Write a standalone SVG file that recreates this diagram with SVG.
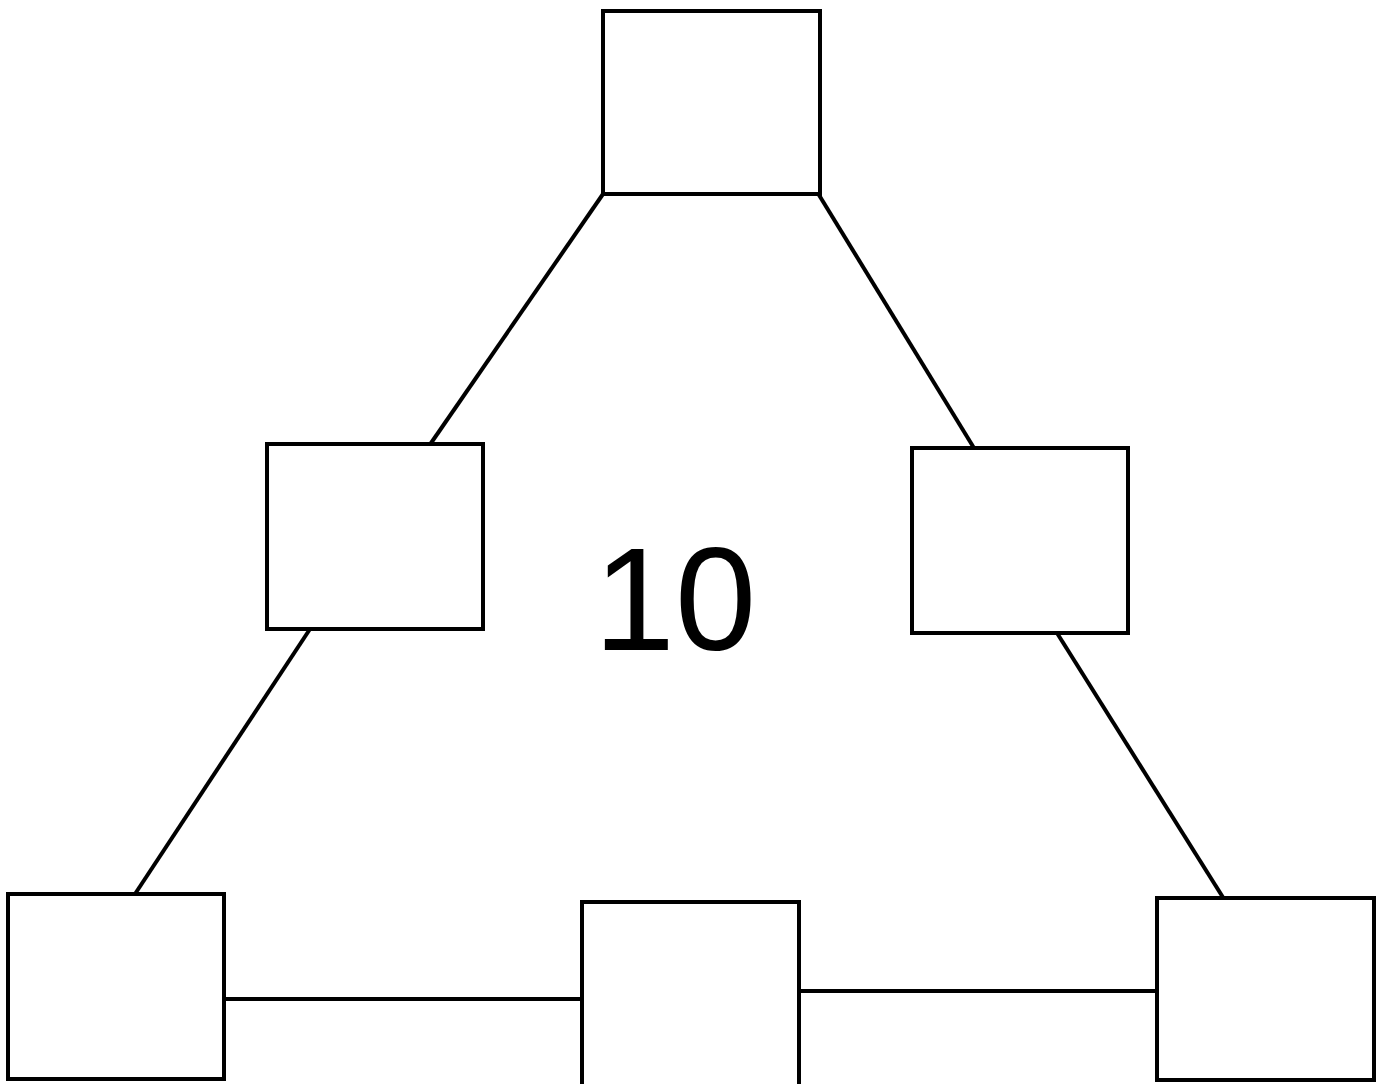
<svg xmlns="http://www.w3.org/2000/svg" width="1381" height="1084" viewBox="0 0 1381 1084">
<style>
.node{fill:#fff;stroke:#000;stroke-width:4}
.edge{stroke:#000;stroke-width:4;fill:none}
.lbl{font-family:'Liberation Sans',Roboto,Arial,sans-serif;font-size:146px;fill:#000}
</style>
<rect width="1381" height="1084" fill="#fff"/>
<g id="connectors">
<line class="edge" x1="603" y1="194" x2="429" y2="446"/>
<line class="edge" x1="819" y1="195" x2="974" y2="448"/>
<line class="edge" x1="310" y1="629" x2="135" y2="894"/>
<line class="edge" x1="1057" y1="633" x2="1224" y2="899"/>
<line class="edge" x1="222" y1="999" x2="582" y2="999"/>
<line class="edge" x1="799" y1="991" x2="1157" y2="991"/>
</g>
<g id="node-top"><rect class="node" x="603" y="11" width="217" height="183"/></g>
<g id="node-left"><rect class="node" x="267" y="444" width="216" height="185"/></g>
<g id="node-right"><rect class="node" x="912" y="448" width="216" height="185"/></g>
<g id="node-bottom-left"><rect class="node" x="8" y="894" width="216" height="185"/></g>
<g id="node-bottom-mid"><rect class="node" x="582" y="902" width="217" height="186"/></g>
<g id="node-bottom-right"><rect class="node" x="1157" y="898" width="217" height="182"/></g>
<text class="lbl" x="675" y="650" text-anchor="middle">10</text>
</svg>
